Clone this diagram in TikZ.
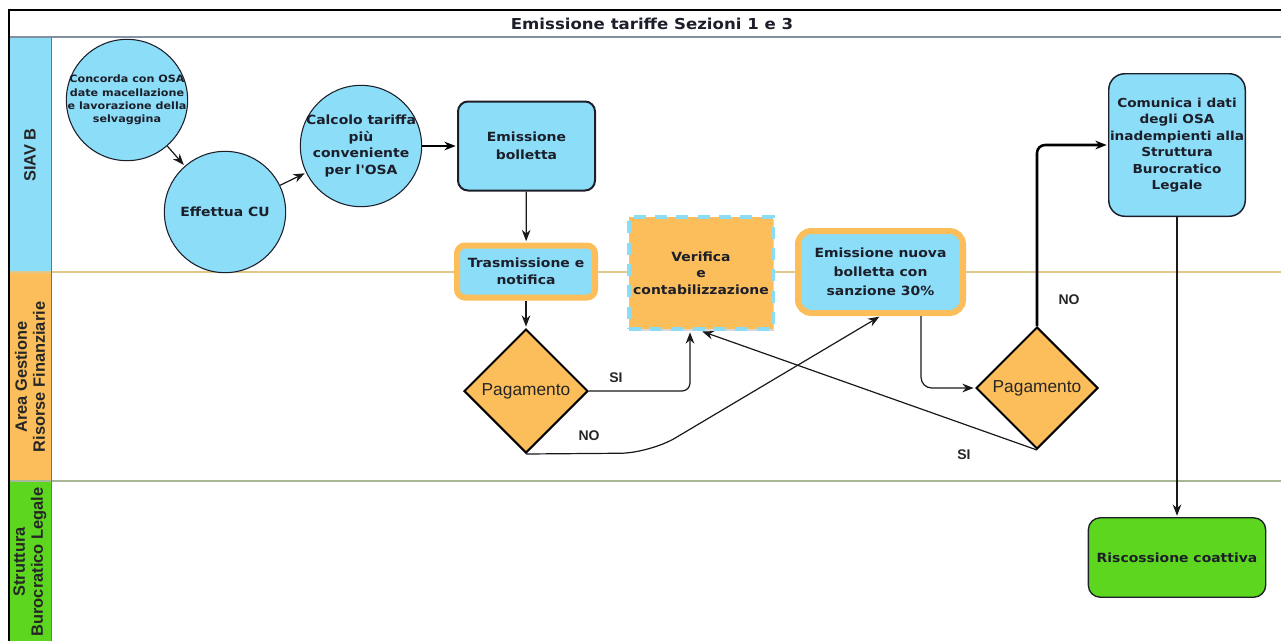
\documentclass[tikz,border=0pt]{standalone}
\usepackage{fontspec}
\setmainfont{DejaVu Sans}
\newfontfamily\boxfont{DejaVu Sans}[FakeStretch=1.1]
\newfontfamily\arialfont{Liberation Sans}
\usetikzlibrary{shapes.geometric,shadows,arrows.meta}
\definecolor{siavblue}{RGB}{140,222,248}
\definecolor{gestorange}{RGB}{252,190,90}
\definecolor{legalgreen}{RGB}{92,214,30}
\definecolor{inkdark}{RGB}{28,30,42}
\definecolor{tanline}{RGB}{222,200,140}
\definecolor{sageline}{RGB}{168,184,150}
\definecolor{titleline}{RGB}{130,145,160}
\definecolor{dashblue}{RGB}{140,220,245}

\begin{document}
\begin{tikzpicture}[x=0.75pt,y=-0.75pt,>={Stealth[length=8.5pt,width=6.5pt]},shorten >=1pt,text=inkdark,box text/.style={font=\boxfont\bfseries\fontsize{9.5}{12.4}\selectfont,align=center},blue circle/.style={box text,circle,draw=inkdark,line width=0.8pt,fill=siavblue,minimum size=91pt,inner sep=-6pt},blue box/.style={box text,rectangle,rounded corners=7.5pt,draw=inkdark,line width=1.5pt,fill=siavblue,minimum width=102.75pt,minimum height=66.75pt},orange box/.style={box text,rectangle,rounded corners=6pt,draw=gestorange,line width=4.5pt,fill=siavblue},check box/.style={box text,rectangle,draw=dashblue,line width=3pt,dash pattern=on 9pt off 7pt,fill=gestorange,minimum width=103.5pt,minimum height=84pt,drop shadow={shadow xshift=0.6pt,shadow yshift=-1.2pt,fill=black!30}},choice/.style={diamond,aspect=1,draw=black,line width=1.5pt,fill=gestorange,minimum width=93pt,minimum height=93pt,inner sep=0pt,font=\arialfont\fontsize{13}{15}\selectfont,text=black!85},green box/.style={box text,rectangle,rounded corners=9pt,draw=inkdark,line width=1pt,fill=legalgreen,minimum width=133pt,minimum height=59.6pt},lane label/.style={rotate=90,align=center,font=\arialfont\bfseries\fontsize{12.3}{13.5}\selectfont,text=black!85},edge label/.style={font=\arialfont\bfseries\fontsize{10.5}{12}\selectfont,text=black!85},link/.style={->,draw=black!90,line width=0.9pt},bold link/.style={->,draw=black,line width=1.9pt}]
    \clip (0,0) rectangle (1281,640);
    \fill[siavblue] (9,37) rectangle (51,272);
    \fill[gestorange] (9,272) rectangle (51,481);
    \fill[legalgreen] (9,481) rectangle (51,645);
    \draw[tanline,line width=0.8pt] (9,272) -- (1290,272);
    \draw[sageline,line width=0.8pt] (9,481) -- (1290,481);
    \draw[titleline,line width=1.2pt] (9,37) -- (1290,37);
    \draw[black!55,line width=0.6pt] (51,37) -- (51,645);
    \draw[black,line width=1.5pt] (1290,10) -- (9,10) -- (9,645);

    \node[font=\boxfont\bfseries\fontsize{11.3}{13}\selectfont] (title) at (652,24) {Emissione tariffe Sezioni 1 e 3};
    \node[lane label] (siav) at (30,155) {SIAV B};
    \node[lane label] (area) at (30,377) {Area Gestione\\Risorse Finanziarie};
    \node[lane label] (legal) at (30,562) {Struttura\\Burocratico Legale};

    \node[blue circle,font=\boxfont\bfseries\fontsize{7.6}{10}\selectfont] (1) at (127,100) {Concorda con OSA\\date macellazione\\e lavorazione della\\selvaggina};
    \node[blue circle] (2) at (225,212) {Effettua CU};
    \node[blue circle] (3) at (361,146) {Calcolo tariffa\\più\\conveniente\\per l'OSA};
    \node[blue box,font=\boxfont\bfseries\fontsize{9.5}{13.5}\selectfont] (4) at (526.5,146) {Emissione\\bolletta};
    \node[orange box,minimum width=103.5pt,minimum height=39pt,font=\boxfont\bfseries\fontsize{9.5}{12.75}\selectfont] (5) at (526,271.5) {Trasmissione e\\notifica};
    \node[choice] (6) at (526,391) {Pagamento};
    \node[check box] (7) at (701,273) {Verifica\\e\\contabilizzazione};
    \node[orange box,rounded corners=10pt,minimum width=123.75pt,minimum height=61.5pt,font=\boxfont\bfseries\fontsize{9.5}{14.25}\selectfont] (8) at (880.5,272) {Emissione nuova\\bolletta con\\sanzione 30\%};
    \node[choice,minimum width=91.5pt,minimum height=91.5pt] (9) at (1037,388) {Pagamento};
    \node[blue box,rounded corners=12pt,line width=1.1pt,minimum width=102.4pt,minimum height=106.9pt,inner xsep=0pt,font=\boxfont\bfseries\fontsize{9.3}{12.4}\selectfont] (10) at (1177,145) {Comunica i dati\\degli OSA\\inadempienti alla\\Struttura\\Burocratico\\Legale};
    \node[green box] (11) at (1177,557.5) {Riscossione coattiva};

    \node[edge label] (si1) at (616,378) {SI};
    \node[edge label] (no1) at (589,436) {NO};
    \node[edge label] (si2) at (964,455) {SI};
    \node[edge label] (no2) at (1069,300) {NO};

    \path
        (1) edge[link] (2)
        (2) edge[link] (3)
        (3) edge[bold link] (4)
        (4) edge[link] (5)
        (5) edge[link] (6)
        (9.south) edge[link] (7.south)
        (10) edge[link] (11)
        ;
    \draw[link,rounded corners=6pt] (6.east) -| ([xshift=-8.25pt]7.south);
    \draw[link,rounded corners=22pt] (6.south) -- (650,453) -- (8.south);
    \draw[link,rounded corners=8pt] ([xshift=30.4pt]8.south) |- (9.west);
    \draw[bold link,rounded corners=6pt] (9.north) |- (10.west);
\end{tikzpicture}
\end{document}
